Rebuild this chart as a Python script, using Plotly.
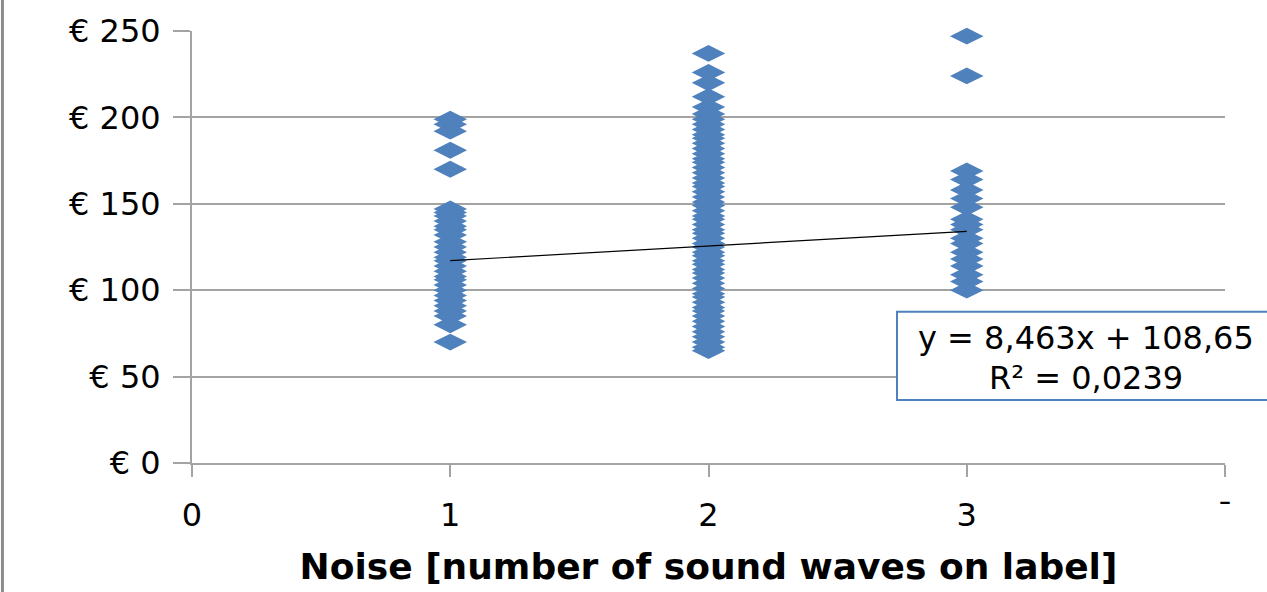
import plotly.graph_objects as go

# ---- data ----
NOISE_LEVELS = [1, 2, 3]
PRICES_NOISE_1 = [199, 196, 192, 181, 170, 147, 145, 143, 140, 137, 135, 132, 128, 125,
                  122, 119, 117, 114, 111, 108, 106, 103, 100, 97, 94, 91, 88, 85, 80, 70]
PRICES_NOISE_2 = [237, 226, 220, 212, 206, 202, 199, 196, 193, 190, 188, 185, 182, 179,
                  176, 174, 171, 168, 165, 162, 160, 157, 154, 151, 149, 146, 143, 141,
                  138, 135, 133, 130, 127, 125, 122, 120, 117, 115, 112, 110, 107, 104,
                  101, 98, 96, 93, 90, 88, 85, 82, 79, 76, 73, 70, 67, 65]
PRICES_NOISE_3 = [247, 224, 169, 164, 158, 153, 148, 141, 138, 135, 130, 127, 122, 118,
                  114, 109, 105, 100]
TREND_SLOPE = 8.463
TREND_INTERCEPT = 108.65
TREND_X = [1, 3]
X_TICK_VALS = [0, 1, 2, 3, 4]
X_TICK_TEXT = ["0", "1", "2", "3", "¯"]
Y_TICK_VALS = [0, 50, 100, 150, 200, 250]
Y_TICK_TEXT = ["€ 0", "€ 50", "€ 100", "€ 150", "€ 200", "€ 250"]
EQUATION_TEXT = "y = 8,463x + 108,65"
R2_TEXT = "R² = 0,0239"
X_TITLE = "Noise [number of sound waves on label]"

BLUE = "#4F81BD"
GRID = "#A3A3A3"
FONT = "DejaVu Sans"

xs, ys = [], []
for lvl, prices in zip(NOISE_LEVELS, [PRICES_NOISE_1, PRICES_NOISE_2, PRICES_NOISE_3]):
    xs += [lvl] * len(prices)
    ys += prices

trend_y = [TREND_SLOPE * x + TREND_INTERCEPT for x in TREND_X]

fig = go.Figure()
fig.add_trace(go.Scatter(
    x=xs, y=ys, mode="markers", cliponaxis=False,
    marker=dict(symbol="diamond-wide", size=24, color=BLUE, line=dict(width=0)),
    showlegend=False, hoverinfo="x+y"))
fig.add_trace(go.Scatter(
    x=TREND_X, y=trend_y, mode="lines",
    line=dict(color="black", width=1.2), showlegend=False))

# trendline label box (cut off at the right edge)
fig.add_shape(type="rect", xref="paper", yref="y",
              x0=0.6825, x1=1.2, y0=36.5, y1=87.5,
              line=dict(color=BLUE, width=2), fillcolor="white", layer="above")
fig.add_annotation(xref="paper", yref="y", x=0.8655, y=72.5, text=EQUATION_TEXT,
                   showarrow=False, xanchor="center", yanchor="middle",
                   font=dict(family=FONT, size=32, color="black"))
fig.add_annotation(xref="paper", yref="y", x=0.8655, y=49, text=R2_TEXT,
                   showarrow=False, xanchor="center", yanchor="middle",
                   font=dict(family=FONT, size=32, color="black"))

# left border of the chart area
fig.add_shape(type="line", xref="paper", yref="paper",
              x0=-0.1835, x1=-0.1835, y0=-0.3, y1=1.1,
              line=dict(color="#8C8C8C", width=3))

fig.update_layout(
    width=1267, height=592,
    margin=dict(l=192, r=42, t=30, b=125),
    paper_bgcolor="white", plot_bgcolor="white",
    font=dict(family=FONT, size=32, color="black"),
)
fig.update_xaxes(
    range=[0, 4], tickvals=X_TICK_VALS, ticktext=X_TICK_TEXT,
    showgrid=False, zeroline=False,
    showline=True, linecolor=GRID, linewidth=2,
    ticks="outside", ticklen=12, tickwidth=2, tickcolor=GRID,
    ticklabelstandoff=11,
    tickfont=dict(family=FONT, size=32),
    title=dict(text="<b>" + X_TITLE + "</b>", standoff=20,
               font=dict(family=FONT, size=36)),
)
fig.update_yaxes(
    range=[0, 250], tickvals=Y_TICK_VALS, ticktext=Y_TICK_TEXT,
    showgrid=True, gridcolor=GRID, gridwidth=1.5, zeroline=False,
    showline=True, linecolor=GRID, linewidth=2,
    ticks="outside", ticklen=17, tickwidth=1.5, tickcolor=GRID,
    ticklabelstandoff=6,
    tickfont=dict(family=FONT, size=32),
)

fig.write_html(
    "out.html",
    config={"displayModeBar": False},
    post_script="document.body.style.margin='0';document.body.style.overflow='hidden';",
)
